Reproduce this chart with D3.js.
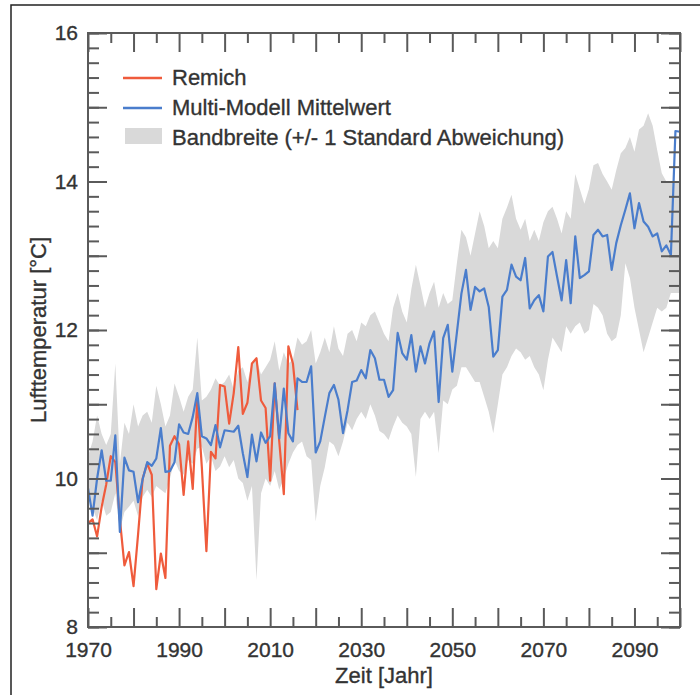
<!DOCTYPE html>
<html>
<head>
<meta charset="utf-8">
<script src="https://cdn.jsdelivr.net/npm/d3@7"></script>
<style>
  body { margin: 0; background: #fff; }
  svg { display: block; font-family: "Liberation Sans", Arial, sans-serif; }
</style>
</head>
<body>
<div id="chart"></div>
<script>
// years 1970..2100
const startYear = 1970, endYear = 2100;
const years = d3.range(startYear, endYear + 1);

// Remich observations 1970..2016
const remich = [
  9.40, 9.45, 9.22, 9.62, 9.92, 10.30, 10.22, 9.45, 8.83, 9.01,
  8.55, 9.25, 10.00, 10.20, 10.05, 8.51, 8.99, 8.66, 10.44, 10.57,
  10.46, 9.78, 10.50, 9.86, 11.08, 10.15, 9.02, 10.36, 10.27, 11.26,
  11.24, 10.74, 11.15, 11.77, 10.87, 11.02, 11.55, 11.62, 11.05, 10.95,
  9.97, 11.28, 10.50, 9.79, 11.78, 11.55, 10.92
];

// multi-model mean 1970..2100
const modelMean = [
  9.87, 9.50, 10.00, 10.38, 9.97, 9.97, 10.58, 9.28, 10.28, 10.11,
  10.09, 9.68, 9.99, 10.22, 10.17, 10.27, 10.68, 10.09, 10.10, 10.22,
  10.73, 10.62, 10.60, 10.83, 11.15, 10.57, 10.54, 10.45, 10.72, 10.42,
  10.65, 10.64, 10.63, 10.71, 10.34, 10.02, 10.59, 10.23, 10.62, 10.48,
  10.57, 11.28, 10.54, 11.21, 10.61, 10.50, 11.35, 11.30, 11.30, 11.51,
  10.35, 10.50, 10.83, 11.15, 11.26, 11.06, 10.61, 10.92, 11.30, 11.32,
  11.46, 11.35, 11.73, 11.62, 11.33, 11.33, 11.10, 11.19, 11.96, 11.69,
  11.60, 11.93, 11.44, 11.78, 11.55, 11.82, 11.98, 11.03, 11.89, 12.07,
  11.44, 11.96, 12.49, 12.81, 12.27, 12.58, 12.52, 12.56, 12.31, 11.64,
  11.73, 12.45, 12.54, 12.88, 12.72, 12.67, 12.97, 12.29, 12.40, 12.47,
  12.25, 12.99, 13.05, 12.72, 12.40, 12.94, 12.36, 13.26, 12.70, 12.74,
  12.79, 13.28, 13.35, 13.26, 13.28, 12.81, 13.17, 13.41, 13.62, 13.84,
  13.37, 13.71, 13.46, 13.39, 13.26, 13.30, 13.06, 13.14, 13.01, 14.68,
  14.67
];

// band (+/- 1 std) upper edge 1970..2100
const bandUpper = [
  10.30, 10.50, 10.85, 10.60, 10.45, 10.60, 11.55, 10.20, 10.75, 10.60,
  11.00, 10.70, 10.85, 10.90, 10.75, 11.25, 11.00, 10.70, 10.85, 11.28,
  11.10, 10.90, 11.10, 11.20, 11.90, 11.05, 11.10, 11.20, 11.35, 11.25,
  11.30, 11.40, 11.20, 11.45, 11.50, 11.30, 11.55, 11.60, 11.40, 11.50,
  11.60, 11.85, 11.45, 11.70, 11.55, 11.60, 11.90, 11.80, 11.85, 12.00,
  11.55, 11.70, 11.90, 11.70, 12.05, 11.75, 11.65, 11.95, 12.00, 11.85,
  12.10, 12.05, 12.20, 12.25, 12.10, 11.95, 11.85, 12.30, 12.50, 12.25,
  12.10, 12.55, 12.88, 12.60, 12.30, 12.50, 12.65, 12.30, 12.50, 12.35,
  12.40, 12.90, 13.35, 13.25, 13.00, 13.30, 13.60, 13.40, 13.10, 13.20,
  13.10, 13.50, 13.65, 13.82, 13.50, 13.35, 13.50, 13.20, 13.35, 13.20,
  13.45, 13.60, 13.66, 13.50, 13.30, 13.60, 13.50, 14.10, 13.90, 13.70,
  13.90, 14.22, 14.25, 14.10, 14.00, 13.89, 14.15, 14.38, 14.45, 14.60,
  14.40, 14.70, 14.75, 14.92, 14.75, 14.42, 14.11, 14.00, 13.98, 14.00,
  14.00
];

// band lower edge 1970..2100
const bandLower = [
  9.75, 9.60, 9.44, 9.70, 9.50, 9.55, 9.80, 9.30, 9.55, 9.62,
  9.70, 9.49, 9.75, 9.85, 9.75, 9.90, 9.85, 9.80, 10.00, 10.25,
  10.10, 10.05, 10.25, 10.20, 10.40, 10.43, 10.20, 10.30, 10.10, 10.16,
  10.30, 10.15, 10.25, 10.00, 9.94, 9.70, 9.90, 8.63, 9.80, 10.00,
  9.90, 10.10, 9.85, 10.00, 10.20, 10.35, 10.45, 10.50, 10.30, 10.25,
  9.42, 9.90, 10.15, 10.50, 10.45, 10.30, 10.50, 10.75, 10.65, 10.80,
  10.90, 10.80, 11.00, 10.85, 10.64, 10.60, 10.52, 10.70, 10.85, 10.75,
  10.70, 10.60, 10.02, 10.80, 10.90, 10.80, 10.90, 10.34, 11.05, 11.00,
  11.20, 11.25, 11.50, 11.50, 11.40, 11.30, 11.30, 11.10, 10.90, 10.61,
  11.00, 11.40, 11.50, 11.65, 11.75, 11.70, 11.60, 11.65, 11.50, 11.40,
  11.19, 11.60, 11.90, 11.80, 11.70, 12.05, 11.95, 12.05, 12.10, 11.95,
  12.00, 12.35, 12.30, 12.20, 11.95, 11.85, 11.90, 12.20, 12.90, 12.70,
  12.30, 12.00, 11.70, 11.90, 12.10, 12.30, 12.25, 12.30, 12.50, 12.50,
  12.50
];

// axis ticks
const yMajor = d3.range(8, 16.001, 1);
const yMinor = d3.range(8, 16.001, 0.2).map(d => +d.toFixed(1));
const yLabels = [8, 10, 12, 14, 16];
const xMajor = d3.range(1970, 2101, 10);
const xMinor = d3.range(1975, 2100, 10);
const xLabels = [1970, 1990, 2010, 2030, 2050, 2070, 2090];

const legendItems = ["Remich", "Multi-Modell Mittelwert", "Bandbreite (+/- 1 Standard Abweichung)"];

let width = 700, height = 695,
    margin = ({top: 33, right: 20, bottom: 68, left: 88});

const red = "#ef5b3c", blue = "#4a7dcc", band = "#d9d9d9", axisCol = "#5a5a5a", textCol = "#333";

const svg = d3.select("#chart")
  .append("svg")
  .attr("width", width)
  .attr("height", height);

// outer frame (cropped on right and bottom)
svg.append("rect")
  .attr("x", 11).attr("y", 5)
  .attr("width", 720).attr("height", 720)
  .attr("fill", "none")
  .attr("stroke", "#222")
  .attr("stroke-width", 1.5);

const x = d3.scaleLinear()
  .domain([startYear, endYear])
  .range([margin.left, 680]);

const y = d3.scaleLinear()
  .domain([8, 16])
  .range([627, margin.top]);

// band
const bandData = years.map((yr, i) => ({yr, lo: bandLower[i], hi: bandUpper[i]}));
svg.append("path")
  .datum(bandData)
  .attr("fill", band)
  .attr("d", d3.area()
    .x(d => x(d.yr))
    .y0(d => y(d.lo))
    .y1(d => y(d.hi)));

// lines
const line = d3.line().x(d => x(d[0])).y(d => y(d[1]));

svg.append("path")
  .datum(remich.map((v, i) => [startYear + i, v]))
  .attr("fill", "none")
  .attr("stroke", red)
  .attr("stroke-width", 2.2)
  .attr("stroke-linejoin", "round")
  .attr("d", line);

svg.append("path")
  .datum(modelMean.map((v, i) => [startYear + i, v]))
  .attr("fill", "none")
  .attr("stroke", blue)
  .attr("stroke-width", 2.2)
  .attr("stroke-linejoin", "round")
  .attr("d", line);

// axes - ticks pointing inward on all four sides
function styleAxis(g) {
  g.select(".domain").remove();
  g.selectAll("line").attr("stroke", axisCol).attr("stroke-width", 2);
  g.selectAll("text")
    .attr("fill", textCol)
    .attr("stroke", textCol)
    .attr("stroke-width", 0.35)
    .style("font-size", "21px");
}

const x0 = x.range()[0], x1 = x.range()[1], y0 = y.range()[0], y1 = y.range()[1];

// left
svg.append("g").attr("transform", `translate(${x0},0)`)
  .call(d3.axisLeft(y).tickValues(yMinor).tickSize(-11).tickFormat(""))
  .call(styleAxis);
svg.append("g").attr("transform", `translate(${x0},0)`)
  .call(d3.axisLeft(y).tickValues(yMajor).tickSize(-19).tickPadding(10)
    .tickFormat(d => yLabels.includes(d) ? d : ""))
  .call(styleAxis);

// right
svg.append("g").attr("transform", `translate(${x1},0)`)
  .call(d3.axisRight(y).tickValues(yMinor).tickSize(-11).tickFormat(""))
  .call(styleAxis);
svg.append("g").attr("transform", `translate(${x1},0)`)
  .call(d3.axisRight(y).tickValues(yMajor).tickSize(-19).tickFormat(""))
  .call(styleAxis);

// bottom
svg.append("g").attr("transform", `translate(0,${y0})`)
  .call(d3.axisBottom(x).tickValues(xMinor).tickSize(-10).tickFormat(""))
  .call(styleAxis);
svg.append("g").attr("transform", `translate(0,${y0})`)
  .call(d3.axisBottom(x).tickValues(xMajor).tickSize(-19).tickPadding(15)
    .tickFormat(d => xLabels.includes(d) ? d : ""))
  .call(styleAxis);

// top
svg.append("g").attr("transform", `translate(0,${y1})`)
  .call(d3.axisTop(x).tickValues(xMinor).tickSize(-10).tickFormat(""))
  .call(styleAxis);
svg.append("g").attr("transform", `translate(0,${y1})`)
  .call(d3.axisTop(x).tickValues(xMajor).tickSize(-19).tickFormat(""))
  .call(styleAxis);

// box
svg.append("rect")
  .attr("x", x0).attr("y", y1)
  .attr("width", x1 - x0).attr("height", y0 - y1)
  .attr("fill", "none")
  .attr("stroke", axisCol)
  .attr("stroke-width", 2);

// axis titles
svg.append("text")
  .attr("x", 384).attr("y", 683)
  .attr("text-anchor", "middle")
  .attr("fill", textCol)
  .attr("stroke", textCol).attr("stroke-width", 0.35)
  .style("font-size", "22px")
  .text("Zeit [Jahr]");

svg.append("text")
  .attr("transform", "translate(46,330) rotate(-90)")
  .attr("text-anchor", "middle")
  .attr("fill", textCol)
  .attr("stroke", textCol).attr("stroke-width", 0.35)
  .style("font-size", "22px")
  .text("Lufttemperatur [°C]");

// legend
const legend = svg.append("g").attr("transform", "translate(123,78)");
legend.append("line").attr("x1", 0).attr("x2", 39).attr("y1", 0).attr("y2", 0)
  .attr("stroke", red).attr("stroke-width", 2.5);
legend.append("line").attr("x1", 0).attr("x2", 39).attr("y1", 30).attr("y2", 30)
  .attr("stroke", blue).attr("stroke-width", 2.5);
legend.append("rect").attr("x", 2).attr("y", 50).attr("width", 37).attr("height", 16)
  .attr("fill", band);
legend.selectAll("text.leg")
  .data(legendItems)
  .join("text")
  .classed("leg", true)
  .attr("x", 49)
  .attr("y", (d, i) => i * 30 + 7)
  .attr("fill", textCol)
  .attr("stroke", textCol).attr("stroke-width", 0.35)
  .style("font-size", "22px")
  .text(d => d);
</script>
</body>
</html>
